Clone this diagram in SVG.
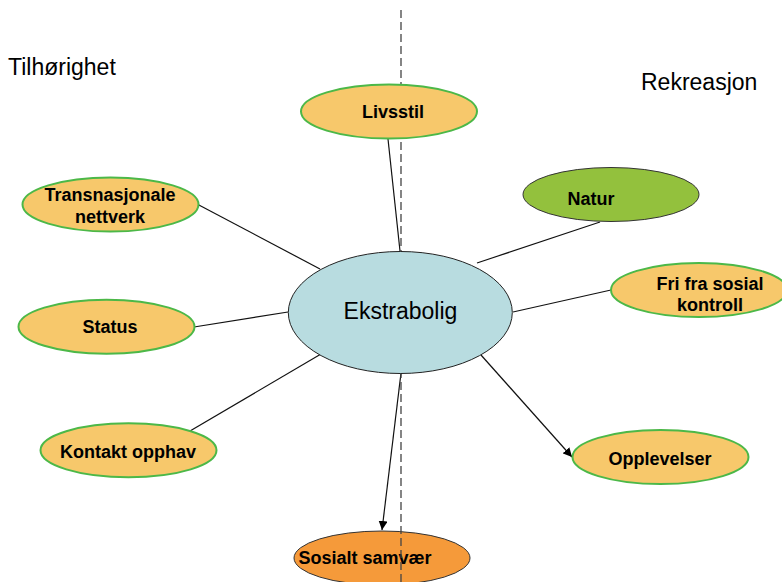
<svg xmlns="http://www.w3.org/2000/svg" width="782" height="582" viewBox="0 0 782 582">
<style>
  .bg { fill: #ffffff; }
  .sat { fill: #f7c86b; stroke: #4cb848; stroke-width: 2; }
  .natur { fill: #93c13d; stroke: #333333; stroke-width: 1; }
  .sos { fill: #f59a3a; stroke: #333333; stroke-width: 1; }
  .main { fill: #b8dce0; stroke: #222222; stroke-width: 1; }
  .lbl { font-family: "Liberation Sans", Arial, sans-serif; font-weight: bold; font-size: 18px; fill: #000; text-anchor: middle; }
  .big { font-family: "Liberation Sans", Arial, sans-serif; font-size: 23px; fill: #000; }
  .conn line { stroke: #111111; stroke-width: 1.2; fill: none; }
  .dash { stroke: #444444; stroke-width: 1.3; stroke-dasharray: 8 4; fill: none; }
</style>
<defs>
  <marker id="arr" viewBox="0 0 10 10" refX="10" refY="5" markerWidth="9" markerHeight="9" markerUnits="userSpaceOnUse" orient="auto">
    <path d="M0,0 L10,5 L0,10 z" fill="#000"/>
  </marker>
</defs>
<rect class="bg" x="0" y="0" width="782" height="582"/>

<text class="big" x="8" y="75">Tilhørighet</text>
<text class="big" x="641" y="90">Rekreasjon</text>

<g id="connectors" class="conn">
  <line x1="388" y1="139" x2="400" y2="251"/>
  <line x1="197" y1="204" x2="320" y2="269"/>
  <line x1="600" y1="222" x2="477" y2="263"/>
  <line x1="611" y1="290" x2="513" y2="312"/>
  <line x1="194" y1="327" x2="288" y2="312"/>
  <line x1="190" y1="431" x2="321" y2="354"/>
  <line x1="481" y1="355" x2="572" y2="457" marker-end="url(#arr)"/>
  <line x1="401" y1="373" x2="382" y2="530" marker-end="url(#arr)"/>
</g>

<g id="sosialt-samvaer">
  <ellipse class="sos" cx="382" cy="558" rx="88" ry="27"/>
  <text class="lbl" x="365" y="564">Sosialt samvær</text>
</g>

<line id="divider" class="dash" x1="401" y1="10" x2="401" y2="582"/>

<g id="livsstil">
  <ellipse class="sat" cx="389" cy="111.5" rx="88" ry="27"/>
  <text class="lbl" x="393" y="118">Livsstil</text>
</g>

<g id="transnasjonale">
  <ellipse class="sat" cx="110.5" cy="204.5" rx="88" ry="27"/>
  <text class="lbl" x="110" y="201">Transnasjonale</text>
  <text class="lbl" x="110" y="223">nettverk</text>
</g>

<g id="natur">
  <ellipse class="natur" cx="611" cy="194.5" rx="88" ry="27"/>
  <text class="lbl" x="591" y="205">Natur</text>
</g>

<g id="fri-fra-sosial-kontroll">
  <ellipse class="sat" cx="699" cy="290" rx="88" ry="27"/>
  <text class="lbl" x="710" y="290">Fri fra sosial</text>
  <text class="lbl" x="710" y="311">kontroll</text>
</g>

<g id="status">
  <ellipse class="sat" cx="106.5" cy="326.7" rx="88" ry="27"/>
  <text class="lbl" x="110" y="333">Status</text>
</g>

<g id="kontakt-opphav">
  <ellipse class="sat" cx="128.5" cy="450.3" rx="88" ry="27"/>
  <text class="lbl" x="128" y="458">Kontakt opphav</text>
</g>

<g id="opplevelser">
  <ellipse class="sat" cx="660.5" cy="457" rx="88" ry="27"/>
  <text class="lbl" x="660" y="465">Opplevelser</text>
</g>

<g id="ekstrabolig">
  <ellipse class="main" cx="400.3" cy="312.5" rx="112" ry="61"/>
  <text class="big" x="400.5" y="319" text-anchor="middle">Ekstrabolig</text>
</g>
</svg>
